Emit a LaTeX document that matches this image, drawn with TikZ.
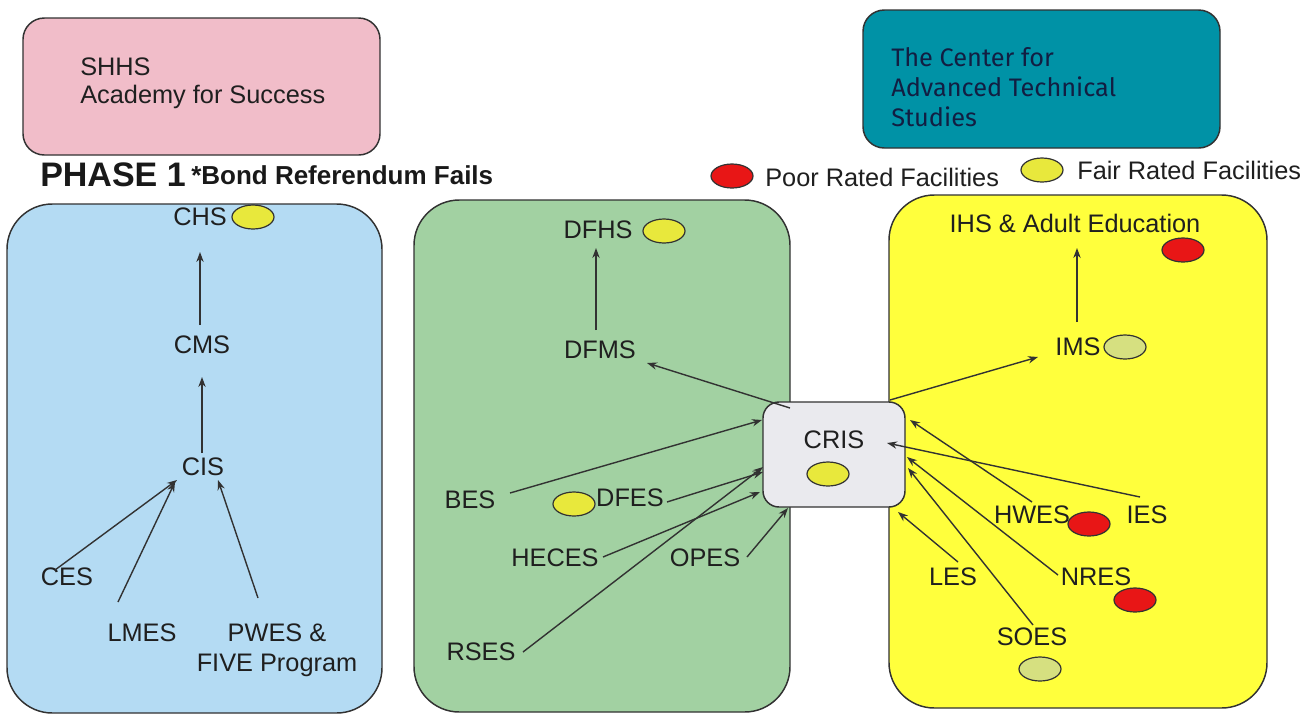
\documentclass[tikz,border=0pt]{standalone}
\usepackage{fontspec}
\setmainfont{Liberation Sans}
\newfontfamily\tealfont{Fira Sans}
\usetikzlibrary{shapes.geometric,arrows.meta,calc}
\definecolor{bluefill}{RGB}{180,219,243}
\definecolor{greenfill}{RGB}{162,209,162}
\definecolor{yellowfill}{RGB}{255,255,60}
\definecolor{pinkfill}{RGB}{241,189,201}
\definecolor{tealfill}{RGB}{0,146,166}
\definecolor{crisfill}{RGB}{234,234,238}
\definecolor{fairfill}{RGB}{232,232,60}
\definecolor{palefill}{RGB}{214,224,128}
\definecolor{poorfill}{RGB}{232,22,22}
\definecolor{edge}{RGB}{50,50,50}
\definecolor{tealtext}{RGB}{18,30,66}
\tikzset{
  bigbox/.style={draw=edge, line width=1.1pt, rounded corners=34pt, inner sep=0pt},
  topbox/.style={draw=edge, line width=1.1pt, rounded corners=16pt, inner sep=0pt},
  lbl/.style={inner sep=0pt, font=\fontsize{19}{22.5}\selectfont, text=black!88},
  fair/.style={ellipse, draw=edge, line width=0.9pt, fill=fairfill, minimum width=31.5pt, minimum height=18pt, inner sep=0pt},
  pale/.style={ellipse, draw=edge, line width=0.9pt, fill=palefill, minimum width=31.5pt, minimum height=18pt, inner sep=0pt},
  poor/.style={ellipse, draw=edge, line width=0.9pt, fill=poorfill, minimum width=31.5pt, minimum height=18pt, inner sep=0pt},
  arr/.style={draw=edge, line width=1.05pt, -{Stealth[length=7.5pt,width=5.5pt]}}
}
\begin{document}
\begin{tikzpicture}[x=0.75pt,y=-0.75pt]
\useasboundingbox[fill=white] (0,0) rectangle (1315,719);
% top boxes
\node[topbox, fill=pinkfill, minimum width=267.75pt, minimum height=102.75pt] (shhsbox) at (201.5,86.5) {};
\node[lbl, anchor=north west, align=left, font=\fontsize{19}{20.5}\selectfont] (shhs) at (80,58) {SHHS\\Academy for Success};
\node[topbox, fill=tealfill, minimum width=267.75pt, minimum height=103.5pt] (catsbox) at (1041.5,79) {};
\node[inner sep=0pt, anchor=north west, align=left, text=tealtext, font=\tealfont\fontsize{19}{22.5}\selectfont] (cats) at (891,47) {The Center for\\Advanced Technical\\Studies};
% title and legend
\node[inner sep=0pt, anchor=west, font=\bfseries\fontsize{25.5}{28}\selectfont, text=black!90] (phase) at (40,175) {PHASE 1};
\node[inner sep=0pt, anchor=west, font=\bfseries\fontsize{19.5}{22}\selectfont, text=black!90] (bond) at (191,175) {*Bond Referendum Fails};
\node[poor] (legpoor) at (732,176) {};
\node[lbl, anchor=west] (poortxt) at (765,177) {Poor Rated Facilities};
\node[fair] (legfair) at (1042,170) {};
\node[lbl, anchor=west] (fairtxt) at (1077,170) {Fair Rated Facilities};
% big boxes
\node[bigbox, fill=bluefill, minimum width=281.25pt, minimum height=381.75pt] (bluebox) at (194.5,458.5) {};
\node[bigbox, fill=greenfill, minimum width=282pt, minimum height=384pt] (greenbox) at (602,456) {};
\node[bigbox, fill=yellowfill, minimum width=283.5pt, minimum height=384.75pt] (yellowbox) at (1078,451.5) {};
\node[draw=edge, line width=1.1pt, rounded corners=12pt, fill=crisfill, minimum width=106.5pt, minimum height=78.75pt, inner sep=0pt] (cris) at (834,454.5) {};
% blue labels
\node[lbl] (chs) at (200,217) {CHS};
\node[fair] (chsr) at (253,217) {};
\node[lbl] (cms) at (202,345) {CMS};
\node[lbl] (cis) at (203,467) {CIS};
\node[lbl] (ces) at (67,577) {CES};
\node[lbl] (lmes) at (142,633) {LMES};
\node[lbl, anchor=north, align=center] (pwes) at (277,624) {PWES \&\\FIVE Program};
% green labels
\node[lbl] (dfhs) at (598,230) {DFHS};
\node[fair] (dfhsr) at (664,231) {};
\node[lbl] (dfms) at (600,350) {DFMS};
\node[lbl] (bes) at (470,500) {BES};
\node[fair] (dfesr) at (574,504) {};
\node[lbl] (dfes) at (630,498) {DFES};
\node[lbl] (heces) at (555,558) {HECES};
\node[lbl] (opes) at (705,558) {OPES};
\node[lbl] (rses) at (481,652) {RSES};
% CRIS
\node[lbl] (cristxt) at (834,440) {CRIS};
\node[fair] (crisr) at (828,474) {};
% yellow labels
\node[lbl] (ihs) at (1075,223) {IHS \& Adult Education};
\node[poor] (ihsr) at (1183,250) {};
\node[lbl] (ims) at (1078,347) {IMS};
\node[pale] (imsr) at (1125,347) {};
\node[lbl] (hwes) at (1032,515) {HWES};
\node[poor] (hwesr) at (1089,524) {};
\node[lbl] (ies) at (1147,515) {IES};
\node[lbl] (les) at (953,577) {LES};
\node[lbl] (nres) at (1096,577) {NRES};
\node[poor] (nresr) at (1135,600) {};
\node[lbl] (soes) at (1032,637) {SOES};
\node[pale] (soesr) at (1040,669) {};
% blue arrows
\draw[arr] ($(cms)+(-2,-20)$) -- ($(chs)+(0,35)$);
\draw[arr] ($(cis)+(-1,-14)$) -- ($(cms)+(0,32)$);
\draw[arr] ($(ces)+(-12,-7)$) -- ($(cis)+(-26,13)$);
\draw[arr] ($(lmes)+(-24,-31)$) -- ($(cis)+(-28,15)$);
\draw[arr] ($(pwes.north)+(-19,-26)$) -- ($(cis)+(15,13)$);
% green arrows
\draw[arr] ($(dfms)+(-4,-20)$) -- ($(dfhs)+(-2,18)$);
\draw[arr] ($(cris)+(-44,-46.5)$) -- ($(dfms)+(47,13)$);
\draw[arr] ($(bes)+(40,-7)$) -- ($(cris)+(-72,-34.5)$);
\draw[arr] ($(dfes)+(37,4)$) -- ($(cris)+(-71,17.5)$);
\draw[arr] ($(heces)+(48,-1)$) -- ($(cris)+(-74,37.5)$);
\draw[arr] ($(rses)+(42,0)$) -- ($(cris)+(-71,12.5)$);
\draw[arr] ($(opes)+(42,-1)$) -- ($(cris)+(-46,53.5)$);
% yellow arrows
\draw[arr] ($(cris)+(56,-54.5)$) -- ($(ims)+(-40,10)$);
\draw[arr] ($(ims)+(-1,-25)$) -- ($(ihs)+(2,25)$);
\draw[arr] ($(hwes)+(0,-13)$) -- ($(cris)+(76,-34.5)$);
\draw[arr] ($(ies)+(-7,-18)$) -- ($(cris)+(53,-11.5)$);
\draw[arr] ($(nres)+(-38,-2)$) -- ($(cris)+(73,2.5)$);
\draw[arr] ($(soes)+(1,-12)$) -- ($(cris)+(74,13.5)$);
\draw[arr] ($(les)+(5,-15)$) -- ($(cris)+(64,57.5)$);
\end{tikzpicture}
\end{document}
